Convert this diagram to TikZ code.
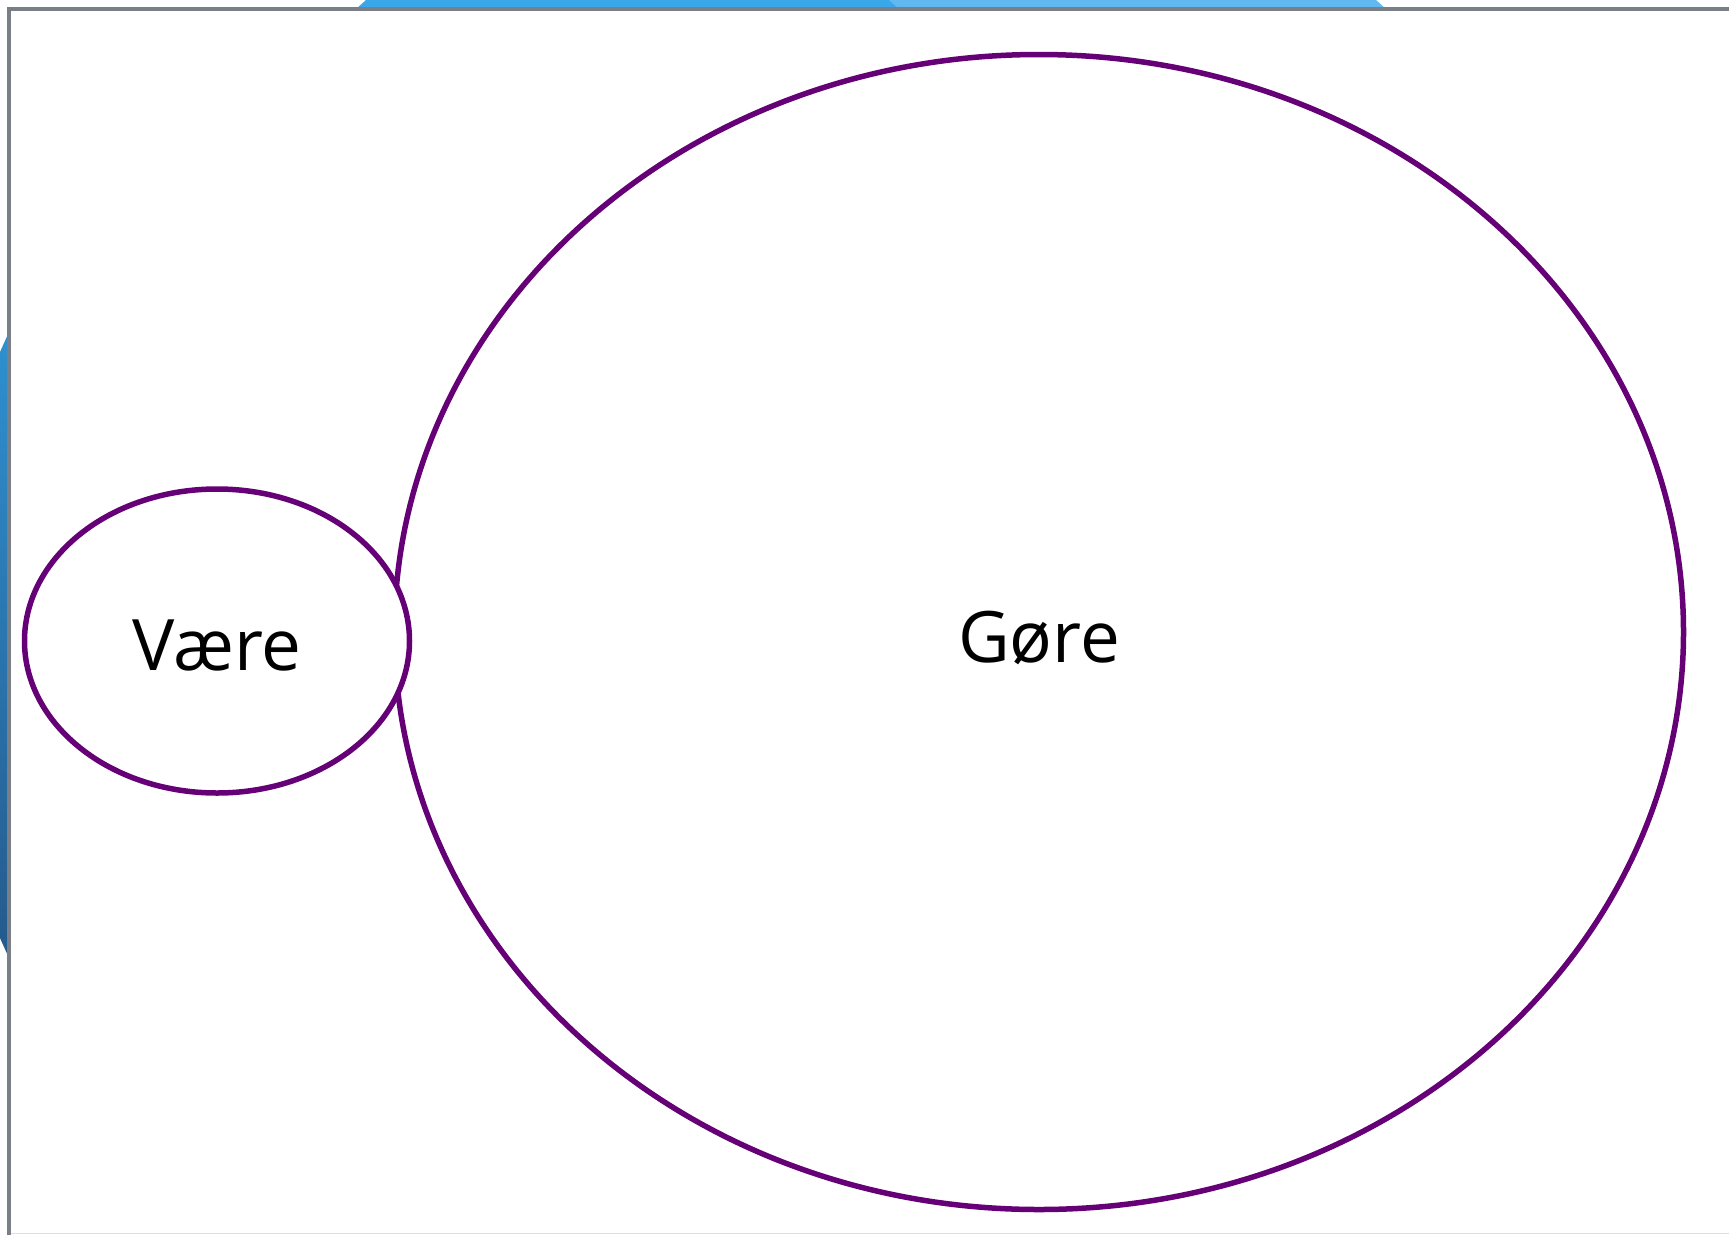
\documentclass[tikz,border=0pt]{standalone}
\usepackage{fontspec}
\setmainfont{Open Sans}
\usetikzlibrary{shapes.geometric}
\definecolor{ringpurple}{RGB}{102,0,119}
\definecolor{framegray}{RGB}{122,127,135}
\definecolor{blueA}{RGB}{58,168,232}
\definecolor{blueB}{RGB}{96,185,240}
\definecolor{blueTop}{RGB}{46,144,208}
\definecolor{blueBot}{RGB}{37,90,140}
\tikzset{
  ring/.style={ellipse, draw=ringpurple, line width=5.5pt, fill=white, inner sep=0pt},
  word/.style={anchor=base, font=\fontsize{71}{85}\selectfont, text=black, inner sep=0pt}
}
\begin{document}
\begin{tikzpicture}[x=1pt,y=-1pt]
\useasboundingbox (0,0) rectangle (1729,1235);
\fill[white] (0,0) rectangle (1729,1235);
% blue shapes peeking behind the frame
\fill[blueA] (356,9) -- (366,0) -- (892,0) -- (902,9) -- cycle;
\fill[blueB] (899,9) -- (889,0) -- (1376,0) -- (1386,9) -- cycle;
\shade[top color=blueTop, bottom color=blueBot] (9,332) -- (0,352) -- (0,938) -- (9,958) -- cycle;
% frame
\fill[white] (9,9) rectangle (1729,1235);
\draw[gray!25, line width=1.5pt] (9,1233.5) -- (1729,1233.5);
\draw[framegray, line width=4.5pt] (9,1235) -- (9,9) -- (1729,9);
% ellipses
\node[ring, minimum width=1289pt, minimum height=1155pt] (gore) at (1039,632) {};
\node[ring, minimum width=385pt, minimum height=304pt] (vaere) at (217,641) {};
\node[word] (tgore) at (1039,662) {Gøre};
\node[word] (tvaere) at (217,670) {Være};
\end{tikzpicture}
\end{document}
